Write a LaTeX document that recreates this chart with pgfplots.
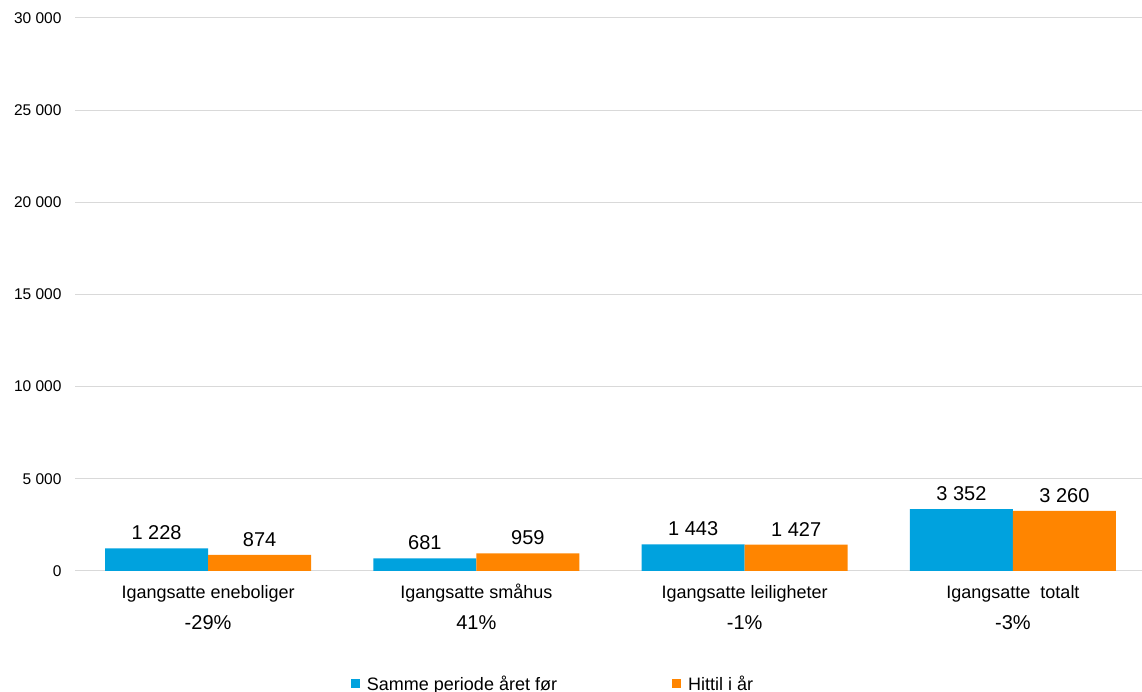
\documentclass[border=0pt]{standalone}
\usepackage{fontspec}
\setmainfont{Liberation Sans}
\usepackage{pgfplots}
\pgfplotsset{compat=1.18}
\definecolor{sblue}{RGB}{0,162,222}
\definecolor{sorange}{RGB}{255,133,0}
\definecolor{gridgray}{RGB}{217,217,217}
\newcommand{\pct}[1]{{\fontsize{20}{31}\selectfont #1}}
\begin{document}
\begin{tikzpicture}
  \useasboundingbox (0,0) rectangle (1142pt,692pt);
  \begin{axis}[
    at={(75pt,121pt)}, anchor=south west,
    scale only axis, width=1067pt, height=553pt,
    ybar=0pt, bar width=103pt,
    xmin=-0.496, xmax=3.481, ymin=0, ymax=30000,
    ytick={0,5000,10000,15000,20000,25000,30000},
    xtick={0,1,2,3},
    xticklabels={
      {\vphantom{Iå}Igangsatte eneboliger\\\pct{-29\%}},
      {\vphantom{Iå}Igangsatte småhus\\\pct{41\%}},
      {\vphantom{Iå}Igangsatte leiligheter\\\pct{-1\%}},
      {\vphantom{Iå}Igangsatte\ \ totalt\\\pct{-3\%}}},
    xticklabel style={align=center, font=\fontsize{18}{31}\selectfont, yshift=-5pt},
    yticklabel style={font=\fontsize{15.5}{18}\selectfont, xshift=-10pt},
    scaled y ticks=false,
    /pgf/number format/assume math mode=true,
    /pgf/number format/1000 sep={\ },
    axis line style={draw=none},
    tick style={draw=none},
    ymajorgrids, grid style={gridgray, line width=1pt},
    nodes near coords,
    every node near coord/.append style={font=\fontsize{20}{24}\selectfont, black, yshift=5pt},
    legend style={at={(0.448,-0.204)}, anchor=center, draw=none,
      legend columns=2, font=\fontsize{18}{21}\selectfont,
      /tikz/every odd column/.append style={column sep=5pt},
      /tikz/every even column/.append style={column sep=113pt}},
    legend image code/.code={\fill[#1] (0pt,-4.5pt) rectangle (9pt,4.5pt);},
  ]
    \addplot[fill=sblue, draw=none] coordinates {(0,1228) (1,681) (2,1443) (3,3352)};
    \addplot[fill=sorange, draw=none] coordinates {(0,874) (1,959) (2,1427) (3,3260)};
    \legend{Samme periode året før, Hittil i år}
  \end{axis}
\end{tikzpicture}
\end{document}
